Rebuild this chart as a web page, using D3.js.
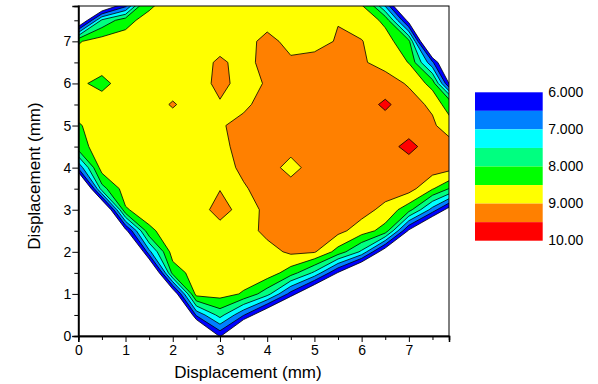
<!DOCTYPE html>
<html>
<head>
<meta charset="utf-8">
<script src="https://cdn.jsdelivr.net/npm/d3@7"></script>
<style>
  body { margin: 0; background: #fff; }
  text { font-family: Arial, "Liberation Sans", sans-serif; fill: #000; }
</style>
</head>
<body>
<div id="chart"></div>
<script>
// grid positions in mm (columns left to right, rows top to bottom)
var xs = [0, 0.5, 1, 1.5, 2, 2.5, 3, 3.5, 4, 4.5, 5, 5.5, 6, 6.5, 7, 7.5, 8];
var ys = [8, 7.5, 7, 6.5, 6, 5.5, 5, 4.5, 4, 3.5, 3, 2.5, 2, 1.5, 1, 0.5, 0];

// values, one row per y above
var z = [
  [2.5, 4.0, 5.5, 8.2, 8.75, 8.75, 8.75, 8.75, 8.75, 8.75, 8.75, 8.75, 8.39, 6.3, 3.3, 1.0, 0],
  [5.0, 7.6, 8.3, 8.75, 8.75, 8.75, 8.75, 8.75, 8.75, 8.75, 8.8, 8.98, 8.8, 8.39, 5.73, 3.2, 0.7],
  [8.45, 8.75, 8.75, 8.75, 8.75, 8.75, 8.75, 8.75, 9.2, 8.8, 8.8, 9.05, 9.02, 8.7, 8.14, 3.86, 1.5],
  [8.75, 8.75, 8.75, 8.75, 8.75, 8.75, 9.1, 8.8, 9.2, 9.1, 9.2, 9.2, 9.05, 8.85, 8.48, 6.6, 4.0],
  [8.6, 8.35, 8.75, 8.75, 8.75, 8.75, 9.15, 8.8, 9.05, 9.25, 9.25, 9.25, 9.25, 9.2, 8.95, 8.31, 5.0],
  [8.75, 8.75, 8.75, 8.75, 9.05, 8.75, 8.95, 8.9, 9.2, 9.25, 9.25, 9.25, 9.25, 9.6, 9.2, 8.9, 7.9],
  [8.45, 8.75, 8.75, 8.75, 8.75, 8.75, 8.95, 9.15, 9.2, 9.25, 9.25, 9.25, 9.25, 9.25, 9.25, 9.1, 8.5],
  [8.3, 8.75, 8.75, 8.75, 8.75, 8.75, 8.85, 9.2, 9.2, 9.2, 9.25, 9.25, 9.25, 9.3, 9.65, 9.25, 9.1],
  [6.6, 8.75, 8.75, 8.75, 8.75, 8.75, 8.8, 9.1, 9.25, 8.8, 9.25, 9.25, 9.25, 9.25, 9.25, 9.25, 9.1],
  [3.8, 7.8, 8.75, 8.75, 8.75, 8.75, 8.98, 8.95, 9.2, 9.25, 9.25, 9.25, 9.25, 9.25, 9.2, 8.55, 7.75],
  [1.25, 4.5, 8.45, 8.75, 8.75, 8.75, 9.2, 8.8, 9.1, 9.25, 9.25, 9.25, 9.2, 8.85, 8.2, 6.8, 5.25],
  [0, 2.25, 5.8, 8.4, 8.75, 8.75, 8.8, 8.75, 9.15, 9.2, 9.2, 9.15, 8.75, 8.3, 5.9, 4.3, 2.75],
  [0, 0, 3.3, 6.85, 8.75, 8.75, 8.75, 8.75, 8.8, 9.1, 9.05, 8.3, 7.4, 5.5, 3.4, 1.8, 0.25],
  [0, 0, 0.8, 4.35, 8.2, 8.75, 8.75, 8.75, 8.8, 8.24, 7.4, 5.95, 4.5, 3.0, 0.9, 0, 0],
  [0, 0, 0, 1.9, 5.35, 8.7, 8.7, 8.45, 7.7, 6.3, 4.9, 3.5, 2.0, 0.5, 0, 0, 0],
  [0, 0, 0, 0, 2.8, 6.6, 7.7, 6.55, 5.2, 3.8, 2.4, 1.0, 0, 0, 0, 0, 0],
  [0, 0, 0, 0, 0.35, 3.85, 6.1, 4.05, 2.7, 1.3, 0, 0, 0, 0, 0, 0, 0]
];

var levels = [6, 6.5, 7, 7.5, 8, 8.5, 9, 9.5];
var colors = ["#0000ff", "#0080ff", "#00ffff", "#00ff80", "#00ff00", "#ffff00", "#ff8000", "#ff0000"];
var legendValues = [6, 7, 8, 9, 10];
var legendLabels = ["6.000", "7.000", "8.000", "9.000", "10.00"];
var xTicks = [0, 1, 2, 3, 4, 5, 6, 7];
var yTicks = [0, 1, 2, 3, 4, 5, 6, 7];
var xMinor = [0.5, 1.5, 2.5, 3.5, 4.5, 5.5, 6.5, 7.5];
var yMinor = [0.5, 1.5, 2.5, 3.5, 4.5, 5.5, 6.5, 7.5];

var width = 598,
    height = 384;
var plot = {left: 78.3, right: 449, top: 6, bottom: 336};

var svg = d3.select("#chart")
    .append("svg").attr("width", width)
    .attr("height", height);

var x = d3.scaleLinear().domain([0, 7.85]).range([plot.left, plot.right]);
var y = d3.scaleLinear().domain([0, 7.84]).range([plot.bottom, plot.top]);

// grid index -> mm (d3.contours puts sample i at i + 0.5)
var gx = d3.scaleLinear().domain([0.5, xs.length - 0.5]).range([xs[0], xs[xs.length - 1]]);
var gy = d3.scaleLinear().domain([0.5, ys.length - 0.5]).range([ys[0], ys[ys.length - 1]]);

var values = [].concat.apply([], z);
var contours = d3.contours()
    .size([xs.length, ys.length])
    .thresholds(levels)(values);

var proj = d3.geoTransform({
  point: function(px, py) { this.stream.point(x(gx(px)), y(gy(py))); }
});
var path = d3.geoPath(proj);

svg.append("clipPath").attr("id", "clip")
  .append("rect")
    .attr("x", plot.left).attr("y", plot.top)
    .attr("width", plot.right - plot.left)
    .attr("height", plot.bottom - plot.top);

var color = d3.scaleOrdinal().domain(levels).range(colors);

svg.append("g")
    .attr("clip-path", "url(#clip)")
  .selectAll("path")
  .data(contours)
  .enter()
  .append("path")
    .attr("d", path)
    .attr("fill", function(d) { return color(d.value); })
    .attr("fill-rule", "evenodd")
    .attr("stroke", "#000")
    .attr("stroke-width", 0.8)
    .attr("stroke-linejoin", "round");

// frame
svg.append("rect")
    .attr("x", plot.left).attr("y", plot.top)
    .attr("width", plot.right - plot.left)
    .attr("height", plot.bottom - plot.top)
    .attr("fill", "none")
    .attr("stroke", "#000")
    .attr("stroke-width", 1);

// axes: major and minor ticks, pointing out
svg.append("g")
    .attr("transform", "translate(0," + plot.bottom + ")")
    .call(d3.axisBottom(x).tickValues(xTicks).tickSize(6).tickPadding(3).tickFormat(d3.format("d")));
svg.append("g")
    .attr("transform", "translate(0," + plot.bottom + ")")
    .call(d3.axisBottom(x).tickValues(xMinor).tickSize(4).tickFormat(""));
svg.append("g")
    .attr("transform", "translate(" + plot.left + ",0)")
    .call(d3.axisLeft(y).tickValues(yTicks).tickSize(6).tickPadding(1).tickFormat(d3.format("d")));
svg.append("g")
    .attr("transform", "translate(" + plot.left + ",0)")
    .call(d3.axisLeft(y).tickValues(yMinor).tickSize(4).tickFormat(""));

svg.selectAll(".domain").attr("stroke-width", 1.5);
svg.selectAll(".tick line").attr("stroke-width", 1);
svg.selectAll(".tick text")
    .style("font-size", "14px")
    .style("font-family", "Arial, 'Liberation Sans', sans-serif")
    .attr("fill", "#000");

// axis titles
svg.append("text")
    .attr("x", 248)
    .attr("y", 378)
    .attr("text-anchor", "middle")
    .style("font-size", "17px")
    .text("Displacement (mm)");

svg.append("text")
    .attr("transform", "translate(40," + ((plot.top + plot.bottom) / 2 + 5) + ") rotate(-90)")
    .attr("text-anchor", "middle")
    .style("font-size", "17px")
    .text("Displacement (mm)");

// legend
var legend = {left: 475, width: 67.7, top: 92.3, bottom: 240.7};
var ly = d3.scaleLinear().domain([6, 10]).range([legend.top, legend.bottom]);

svg.append("g").selectAll("rect")
  .data(levels)
  .enter()
  .append("rect")
    .attr("x", legend.left)
    .attr("y", function(d) { return ly(d); })
    .attr("width", legend.width)
    .attr("height", function(d) { return ly(d + 0.5) - ly(d); })
    .attr("fill", function(d) { return color(d); });

svg.append("g").selectAll("text")
  .data(legendValues)
  .enter()
  .append("text")
    .attr("x", legend.left + legend.width + 5.5)
    .attr("y", function(d) { return ly(d) + 1; })
    .attr("dominant-baseline", "middle")
    .style("font-size", "14px")
    .text(function(d, i) { return legendLabels[i]; });
</script>
</body>
</html>
